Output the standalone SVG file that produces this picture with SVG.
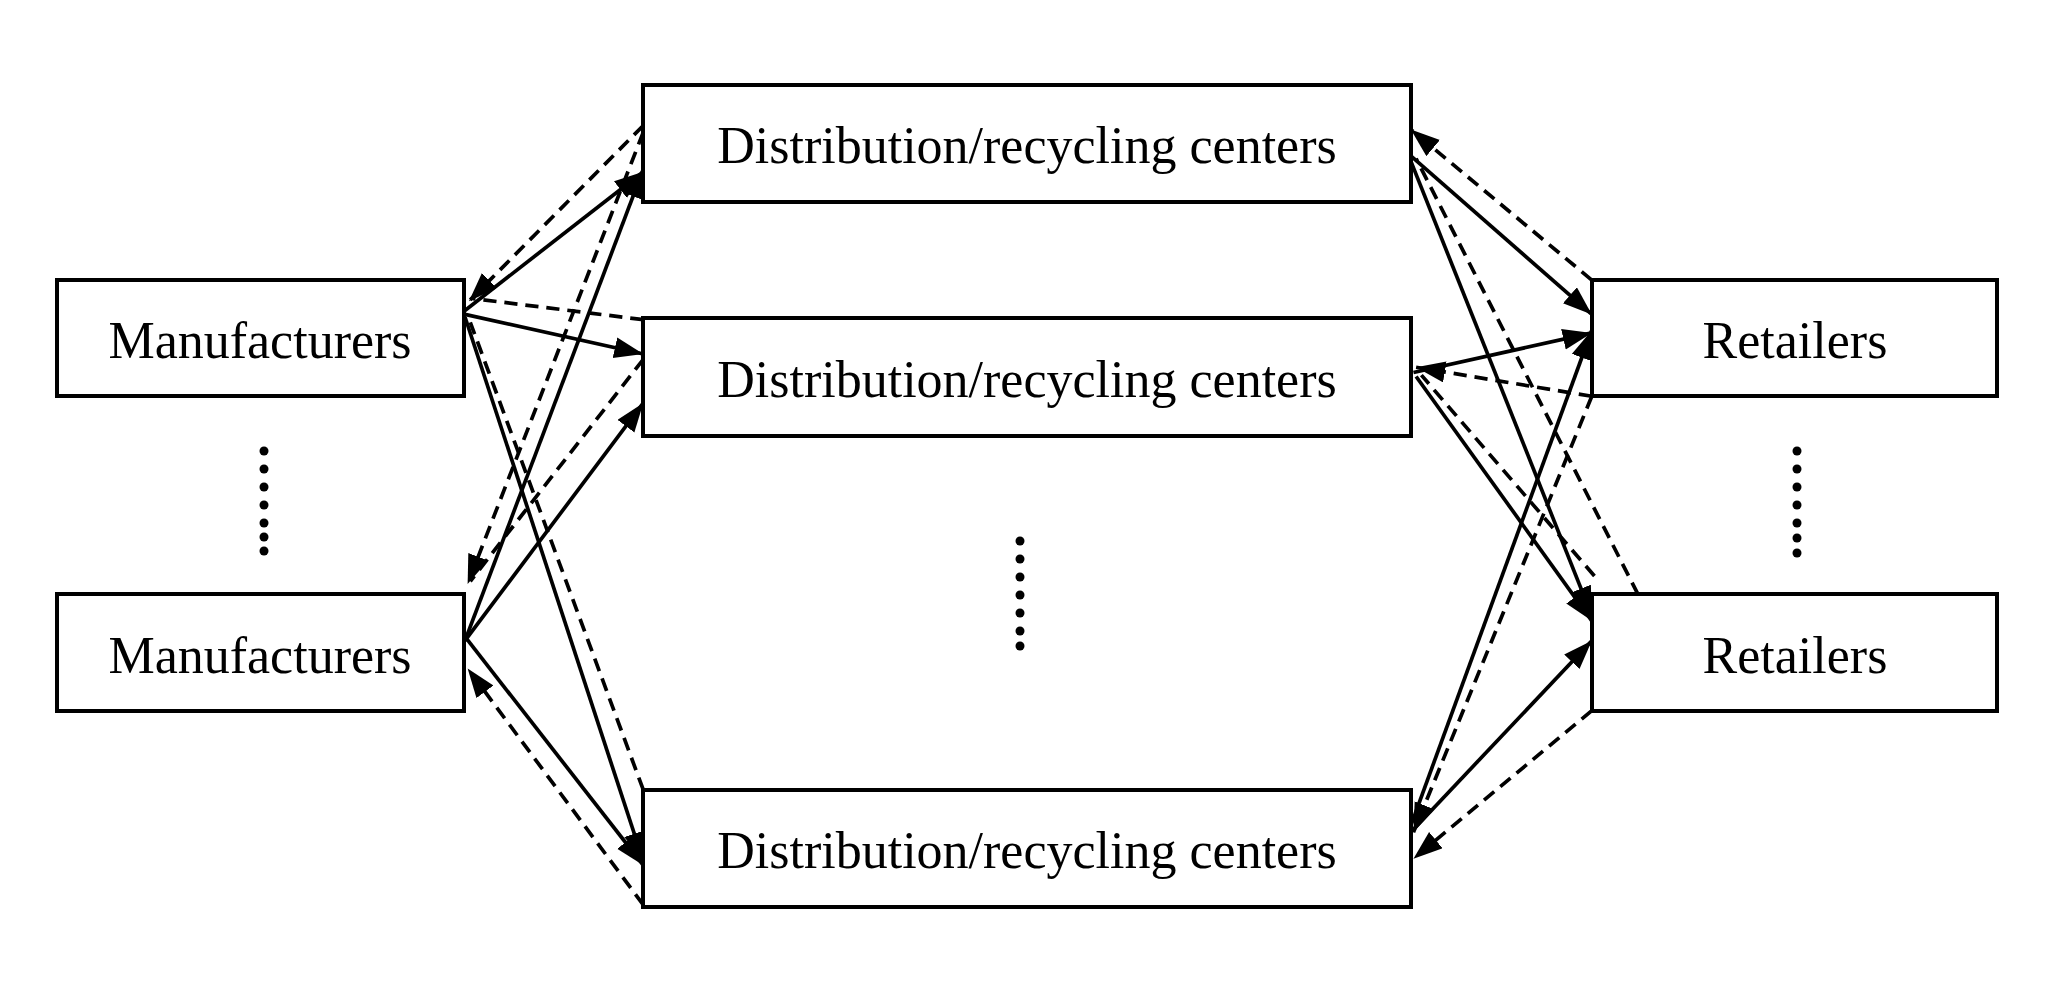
<svg xmlns="http://www.w3.org/2000/svg" width="2068" height="995" viewBox="0 0 2068 995">
<style>
.box{fill:#fff;stroke:#000;stroke-width:4}
.lbl{font-family:"Liberation Serif","Times New Roman",serif;font-size:52px;fill:#000;text-anchor:middle;dominant-baseline:central}
.s{stroke:#000;stroke-width:2.8;fill:none}
.d{stroke:#000;stroke-width:2.8;fill:none;stroke-dasharray:10 6}
.dot{fill:#000}
</style>
<defs>
<marker id="a" markerUnits="userSpaceOnUse" markerWidth="26" markerHeight="20" refX="22" refY="8" orient="auto"><path d="M0,0 L22,8 L0,16 z" fill="#000"/></marker>
</defs>
<rect width="2068" height="995" fill="#fff"/>
<g id="connectors" transform="scale(1.321)">
<line class="s" x1="352" y1="235" x2="487" y2="130" marker-end="url(#a)"/>
<line class="d" x1="487" y1="95" x2="355" y2="228" marker-end="url(#a)"/>
<line class="d" x1="487" y1="242" x2="358" y2="226"/>
<line class="s" x1="352" y1="238" x2="487" y2="268" marker-end="url(#a)"/>
<line class="s" x1="352" y1="240" x2="487" y2="652" marker-end="url(#a)"/>
<line class="d" x1="487" y1="598" x2="356" y2="244"/>
<line class="s" x1="352" y1="485" x2="487" y2="128" marker-end="url(#a)"/>
<line class="d" x1="487" y1="100" x2="354" y2="442" marker-end="url(#a)"/>
<line class="s" x1="352" y1="485" x2="487" y2="305" marker-end="url(#a)"/>
<line class="d" x1="487" y1="272" x2="356" y2="440"/>
<line class="s" x1="352" y1="482" x2="487" y2="655" marker-end="url(#a)"/>
<line class="d" x1="487" y1="685" x2="354" y2="506" marker-end="url(#a)"/>
<line class="s" x1="1068" y1="118" x2="1205" y2="238" marker-end="url(#a)"/>
<line class="d" x1="1205" y1="212" x2="1068" y2="98" marker-end="url(#a)"/>
<line class="s" x1="1068" y1="122" x2="1205" y2="466" marker-end="url(#a)"/>
<line class="d" x1="1240" y1="450" x2="1072" y2="120"/>
<line class="s" x1="1070" y1="282" x2="1205" y2="252" marker-end="url(#a)"/>
<line class="d" x1="1205" y1="300" x2="1072" y2="278" marker-end="url(#a)"/>
<line class="s" x1="1072" y1="285" x2="1205" y2="470" marker-end="url(#a)"/>
<line class="d" x1="1207" y1="436" x2="1076" y2="284"/>
<line class="s" x1="1068" y1="625" x2="1205" y2="250" marker-end="url(#a)"/>
<line class="d" x1="1205" y1="300" x2="1070" y2="630" marker-end="url(#a)"/>
<line class="s" x1="1068" y1="630" x2="1205" y2="485" marker-end="url(#a)"/>
<line class="d" x1="1205" y1="538" x2="1070" y2="650" marker-end="url(#a)"/>
</g>
<g id="m1"><rect class="box" x="57" y="280" width="407" height="116"/><text class="lbl" x="260" y="340">Manufacturers</text></g>
<g id="m2"><rect class="box" x="57" y="594" width="407" height="117"/><text class="lbl" x="260" y="655">Manufacturers</text></g>
<g id="d1"><rect class="box" x="643" y="85" width="768" height="117"/><text class="lbl" x="1027" y="145">Distribution/recycling centers</text></g>
<g id="d2"><rect class="box" x="643" y="318" width="768" height="118"/><text class="lbl" x="1027" y="379">Distribution/recycling centers</text></g>
<g id="d3"><rect class="box" x="643" y="790" width="768" height="117"/><text class="lbl" x="1027" y="850">Distribution/recycling centers</text></g>
<g id="r1"><rect class="box" x="1592" y="280" width="405" height="116"/><text class="lbl" x="1795" y="340">Retailers</text></g>
<g id="r2"><rect class="box" x="1592" y="594" width="405" height="117"/><text class="lbl" x="1795" y="655">Retailers</text></g>
<g id="dots-left" class="dot"><circle cx="264" cy="451" r="4.5"/><circle cx="264" cy="469" r="4.5"/><circle cx="264" cy="487" r="4.5"/><circle cx="264" cy="505" r="4.5"/><circle cx="264" cy="523" r="4.5"/><circle cx="264" cy="537" r="4.5"/><circle cx="264" cy="551" r="4.5"/></g>
<g id="dots-mid" class="dot"><circle cx="1020" cy="541" r="4.5"/><circle cx="1020" cy="559" r="4.5"/><circle cx="1020" cy="577" r="4.5"/><circle cx="1020" cy="595" r="4.5"/><circle cx="1020" cy="613" r="4.5"/><circle cx="1020" cy="631" r="4.5"/><circle cx="1020" cy="646" r="4.5"/></g>
<g id="dots-right" class="dot"><circle cx="1797" cy="451" r="4.5"/><circle cx="1797" cy="469" r="4.5"/><circle cx="1797" cy="487" r="4.5"/><circle cx="1797" cy="505" r="4.5"/><circle cx="1797" cy="523" r="4.5"/><circle cx="1797" cy="538" r="4.5"/><circle cx="1797" cy="553" r="4.5"/></g>
</svg>
